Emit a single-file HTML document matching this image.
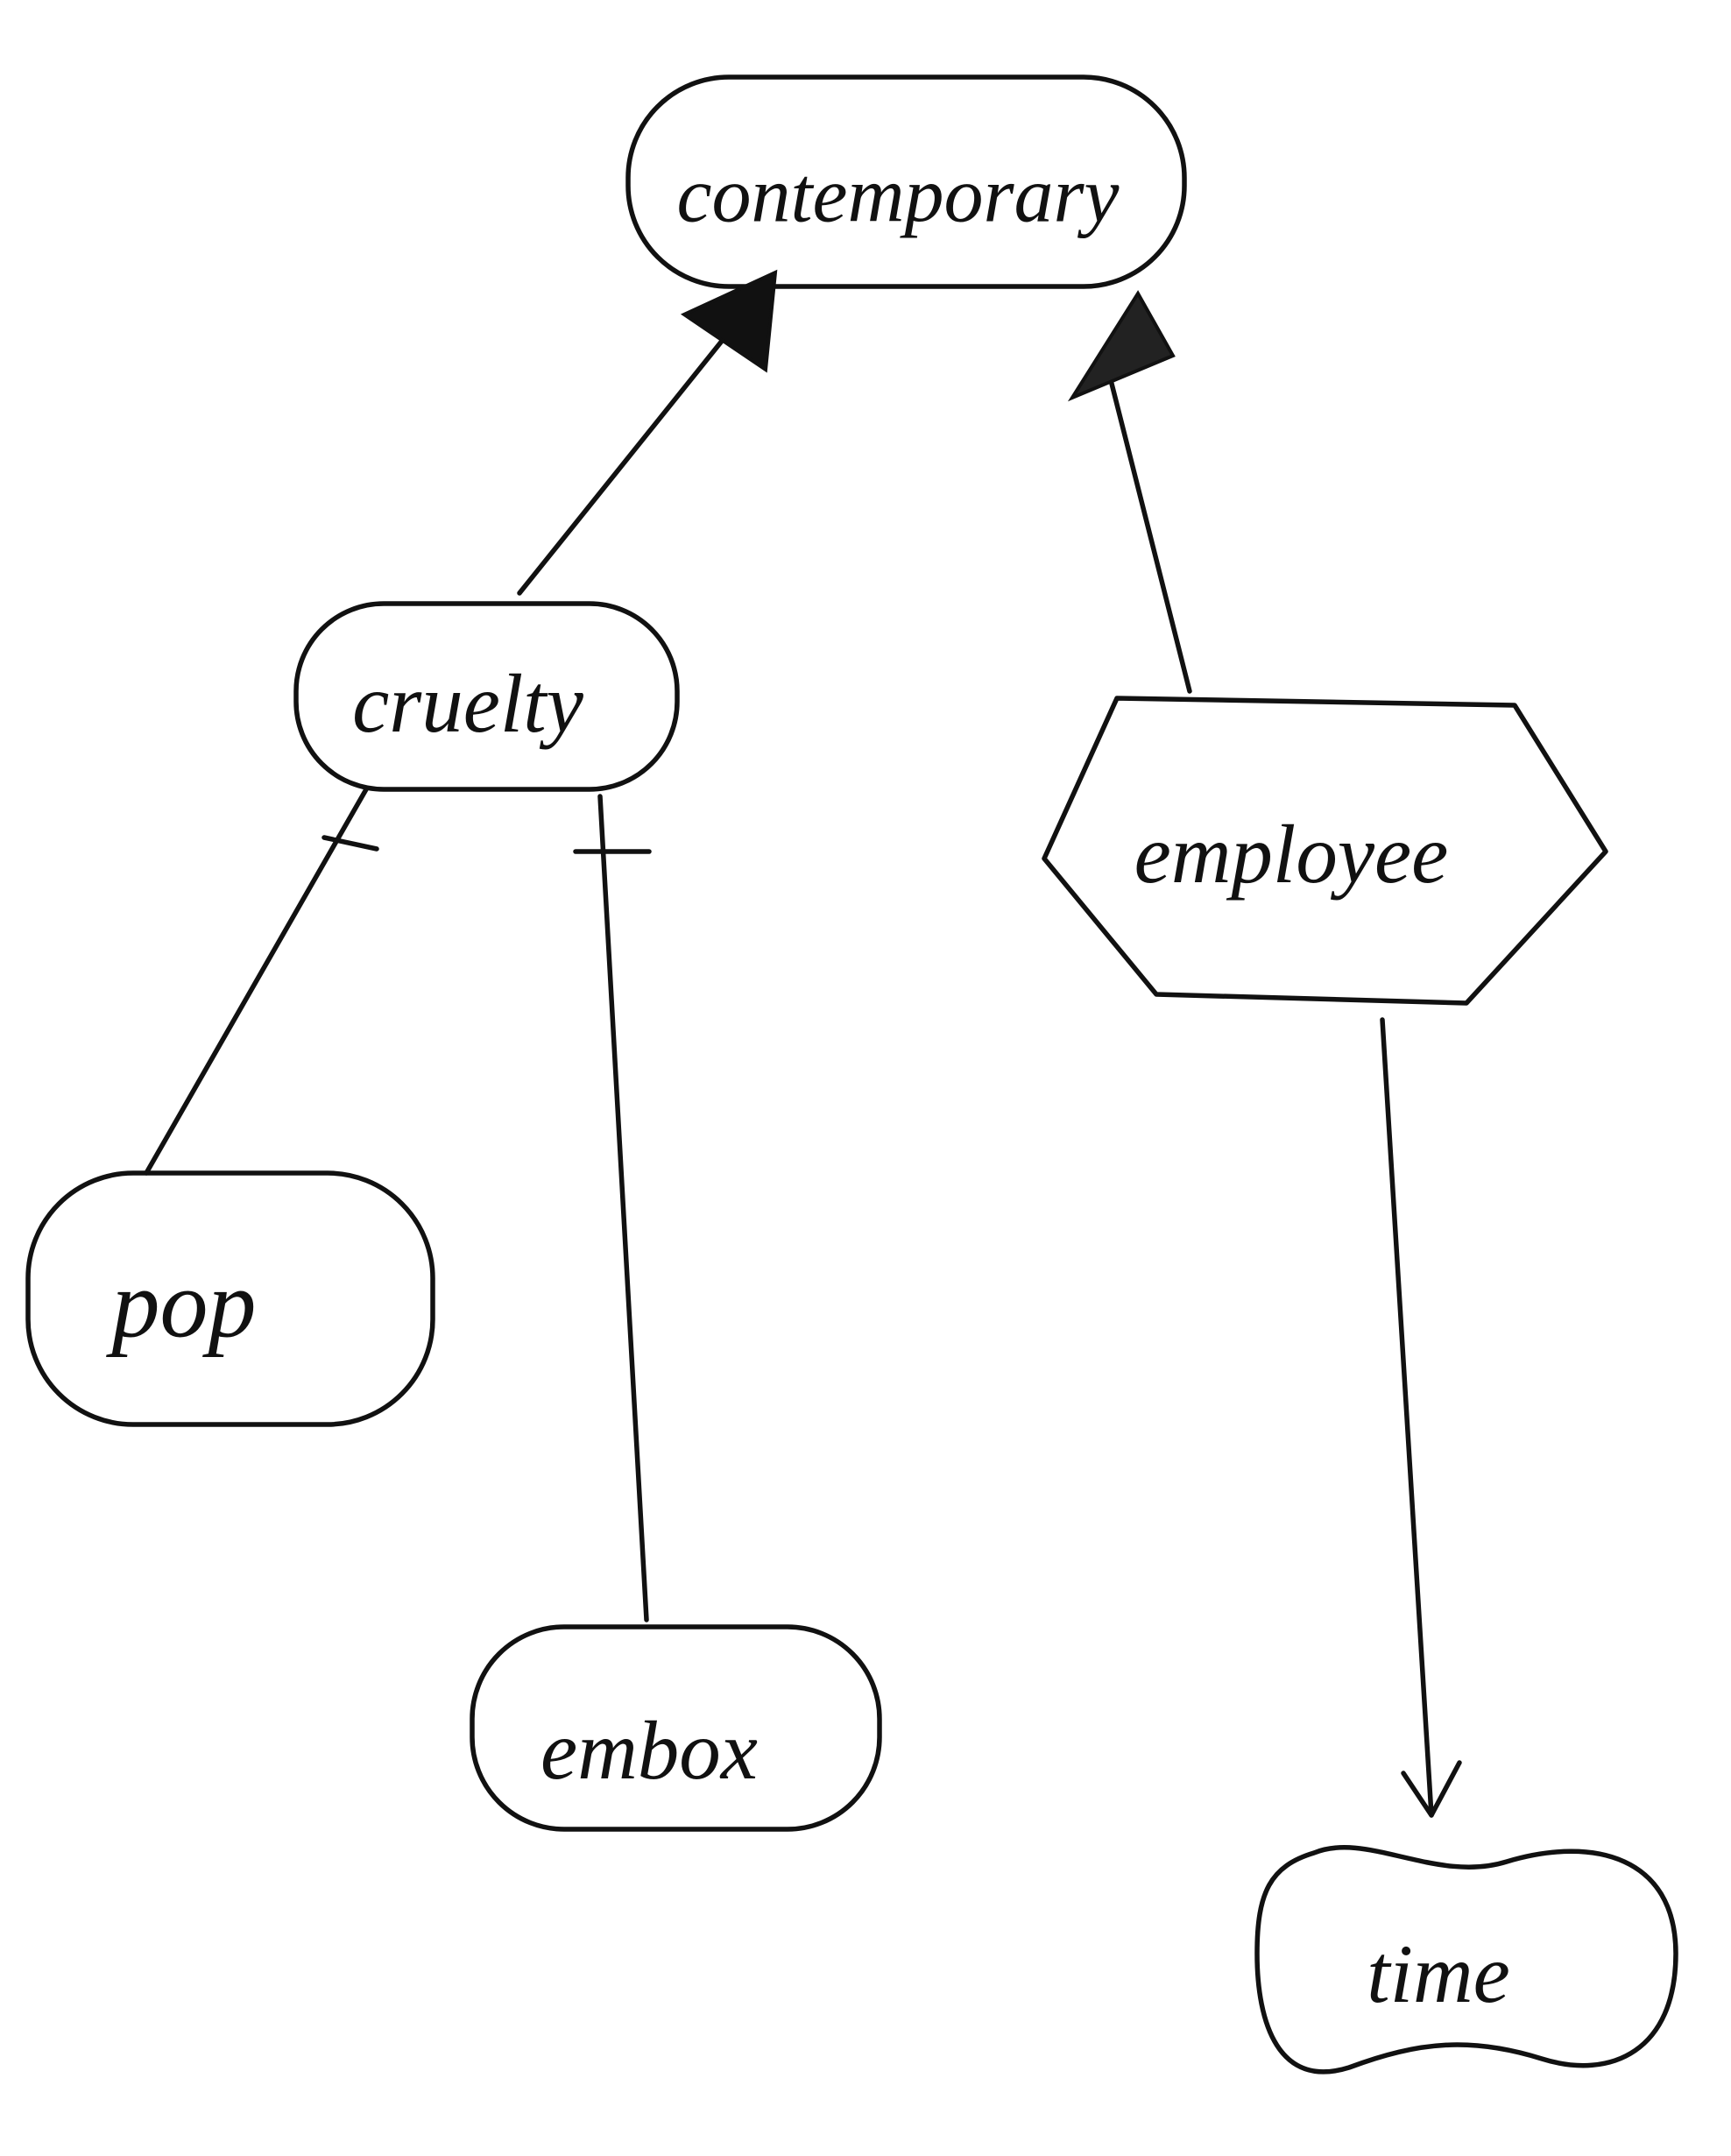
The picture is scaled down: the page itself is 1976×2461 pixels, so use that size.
<!DOCTYPE html>
<html><head><meta charset="utf-8"><style>
html,body{margin:0;padding:0;background:#fff}
svg{display:block}
text{font-family:"Liberation Serif",serif;font-style:italic;fill:#111;text-anchor:middle;dominant-baseline:middle}
</style></head><body>
<svg width="1976" height="2461" viewBox="0 0 1976 2461" xmlns="http://www.w3.org/2000/svg">
<g fill="none" stroke="#111" stroke-width="5.5" stroke-linecap="round" stroke-linejoin="round">
<rect x="717" y="88" width="635" height="239" rx="115"/>
<rect x="338" y="689" width="435" height="212" rx="100"/>
<polygon points="1192,980 1275,797 1729,805 1833,972 1674,1145 1320,1135"/>
<rect x="32" y="1339" width="462" height="287" rx="120"/>
<rect x="539" y="1857" width="465" height="231" rx="105"/>
<path d="M1500,2115 C1560,2090 1640,2150 1720,2125 C1820,2095 1913,2120 1913,2230 C1913,2340 1840,2375 1760,2350 C1680,2325 1620,2330 1540,2360 C1460,2385 1435,2310 1435,2230 C1435,2160 1450,2130 1500,2115 Z"/>
<line x1="593" y1="677" x2="829" y2="383"/>
<line x1="1358" y1="789" x2="1267" y2="430"/>
<line x1="418" y1="901" x2="167" y2="1339"/>
<line x1="370" y1="956" x2="430" y2="969"/>
<line x1="685" y1="909" x2="738" y2="1849"/>
<line x1="657" y1="972" x2="741" y2="972"/>
<line x1="1578" y1="1164" x2="1634" y2="2072"/>
<polyline points="1602,2024 1634,2072 1666,2012"/>
</g>
<polygon points="781,359 885,311 874,422" fill="#111" stroke="#111" stroke-width="4"/>
<polygon points="1224,454 1299,335 1339,406" fill="#222" stroke="#111" stroke-width="4"/>
<text x="1025" y="232" font-size="90">contemporary</text>
<text x="534" y="813" font-size="95">cruelty</text>
<text x="1474" y="985" font-size="95">employee</text>
<text x="210" y="1500" font-size="110">pop</text>
<text x="741" y="2008" font-size="95">embox</text>
<text x="1642" y="2263" font-size="95">time</text>
</svg>
</body></html>
